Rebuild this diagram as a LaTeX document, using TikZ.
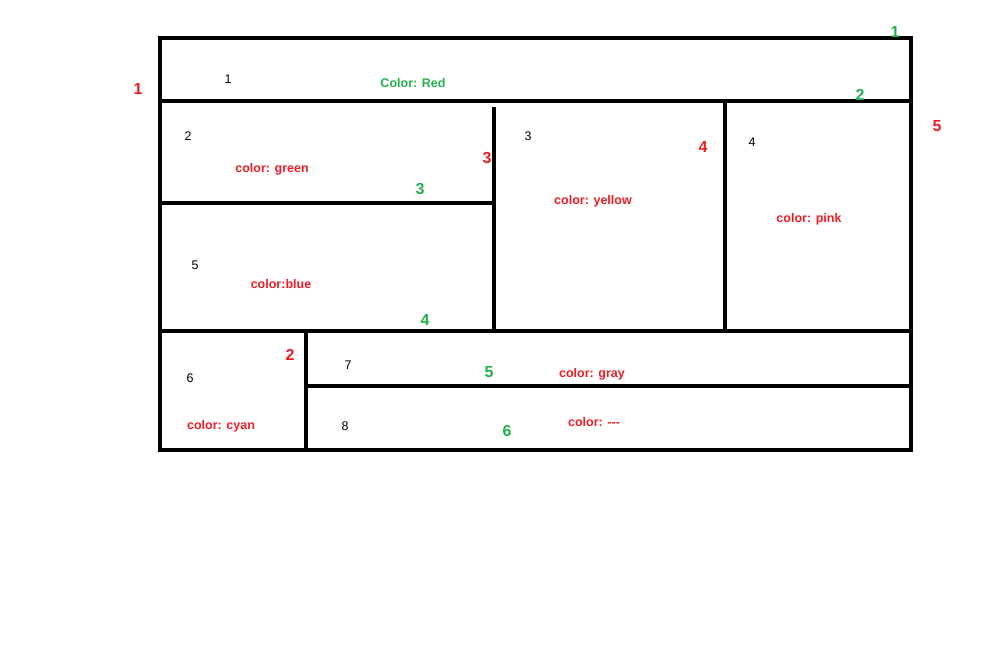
\documentclass[tikz,border=0pt]{standalone}
\usepackage{fontspec}
\setmainfont{Liberation Sans}
\definecolor{paintred}{RGB}{237,28,36}
\definecolor{paintgreen}{RGB}{34,177,76}
\tikzset{
	wallstyle/.style={line width=4.5pt,draw=black},
	idstyle/.style={inner sep=0,text=black,font=\fontsize{12.5}{14}\selectfont},
	redstyle/.style={inner sep=0,text=paintred,font=\bfseries\fontsize{12.5}{14}\selectfont},
	greenstyle/.style={inner sep=0,text=paintgreen,font=\bfseries\fontsize{12.5}{14}\selectfont},
	rednumstyle/.style={inner sep=0,text=paintred,font=\bfseries\fontsize{16}{18}\selectfont},
	greennumstyle/.style={inner sep=0,text=paintgreen,font=\bfseries\fontsize{16}{18}\selectfont}
}
\begin{document}
\begin{tikzpicture}[x=1pt,y=-1pt]
	\useasboundingbox (0,0) rectangle (985,666);
	\draw[wallstyle] (160,38) rectangle (911,450);
	\draw[wallstyle] (160,101)--(911,101);
	\draw[wallstyle] (494,107)--(494,331);
	\draw[wallstyle] (160,203)--(494,203);
	\draw[wallstyle] (725,101)--(725,331);
	\draw[wallstyle] (158,331)--(911,331);
	\draw[wallstyle] (306,331)--(306,450);
	\draw[wallstyle] (304,386)--(911,386);
	\node[idstyle] (id1) at (228,79) {1};
	\node[idstyle] (id2) at (188,136) {2};
	\node[idstyle] (id3) at (528,136) {3};
	\node[idstyle] (id4) at (752,142) {4};
	\node[idstyle] (id5) at (195,265) {5};
	\node[idstyle] (id6) at (190,378) {6};
	\node[idstyle] (id7) at (348,365) {7};
	\node[idstyle] (id8) at (345,426) {8};
	\node[greenstyle] (red) at (413,83) {Color: Red};
	\node[redstyle] (green) at (272,169) {color: green};
	\node[redstyle] (yellow) at (593,201) {color: yellow};
	\node[redstyle] (pink) at (809,219) {color: pink};
	\node[redstyle] (blue) at (281,284) {color:blue};
	\node[redstyle] (gray) at (592,374) {color: gray};
	\node[redstyle] (cyan) at (221,426) {color: cyan};
	\node[redstyle] (none) at (594,422) {color: {-}{-}{-}};
	\node[rednumstyle] (r1) at (138,89) {1};
	\node[rednumstyle] (r2) at (290,355) {2};
	\node[rednumstyle] (r3) at (487,158) {3};
	\node[rednumstyle] (r4) at (703,147) {4};
	\node[rednumstyle] (r5) at (937,126) {5};
	\node[greennumstyle] (g1) at (895,32) {1};
	\node[greennumstyle] (g2) at (860,95) {2};
	\node[greennumstyle] (g3) at (420,189) {3};
	\node[greennumstyle] (g4) at (425,320) {4};
	\node[greennumstyle] (g5) at (489,372) {5};
	\node[greennumstyle] (g6) at (507,431) {6};
\end{tikzpicture}
\end{document}
